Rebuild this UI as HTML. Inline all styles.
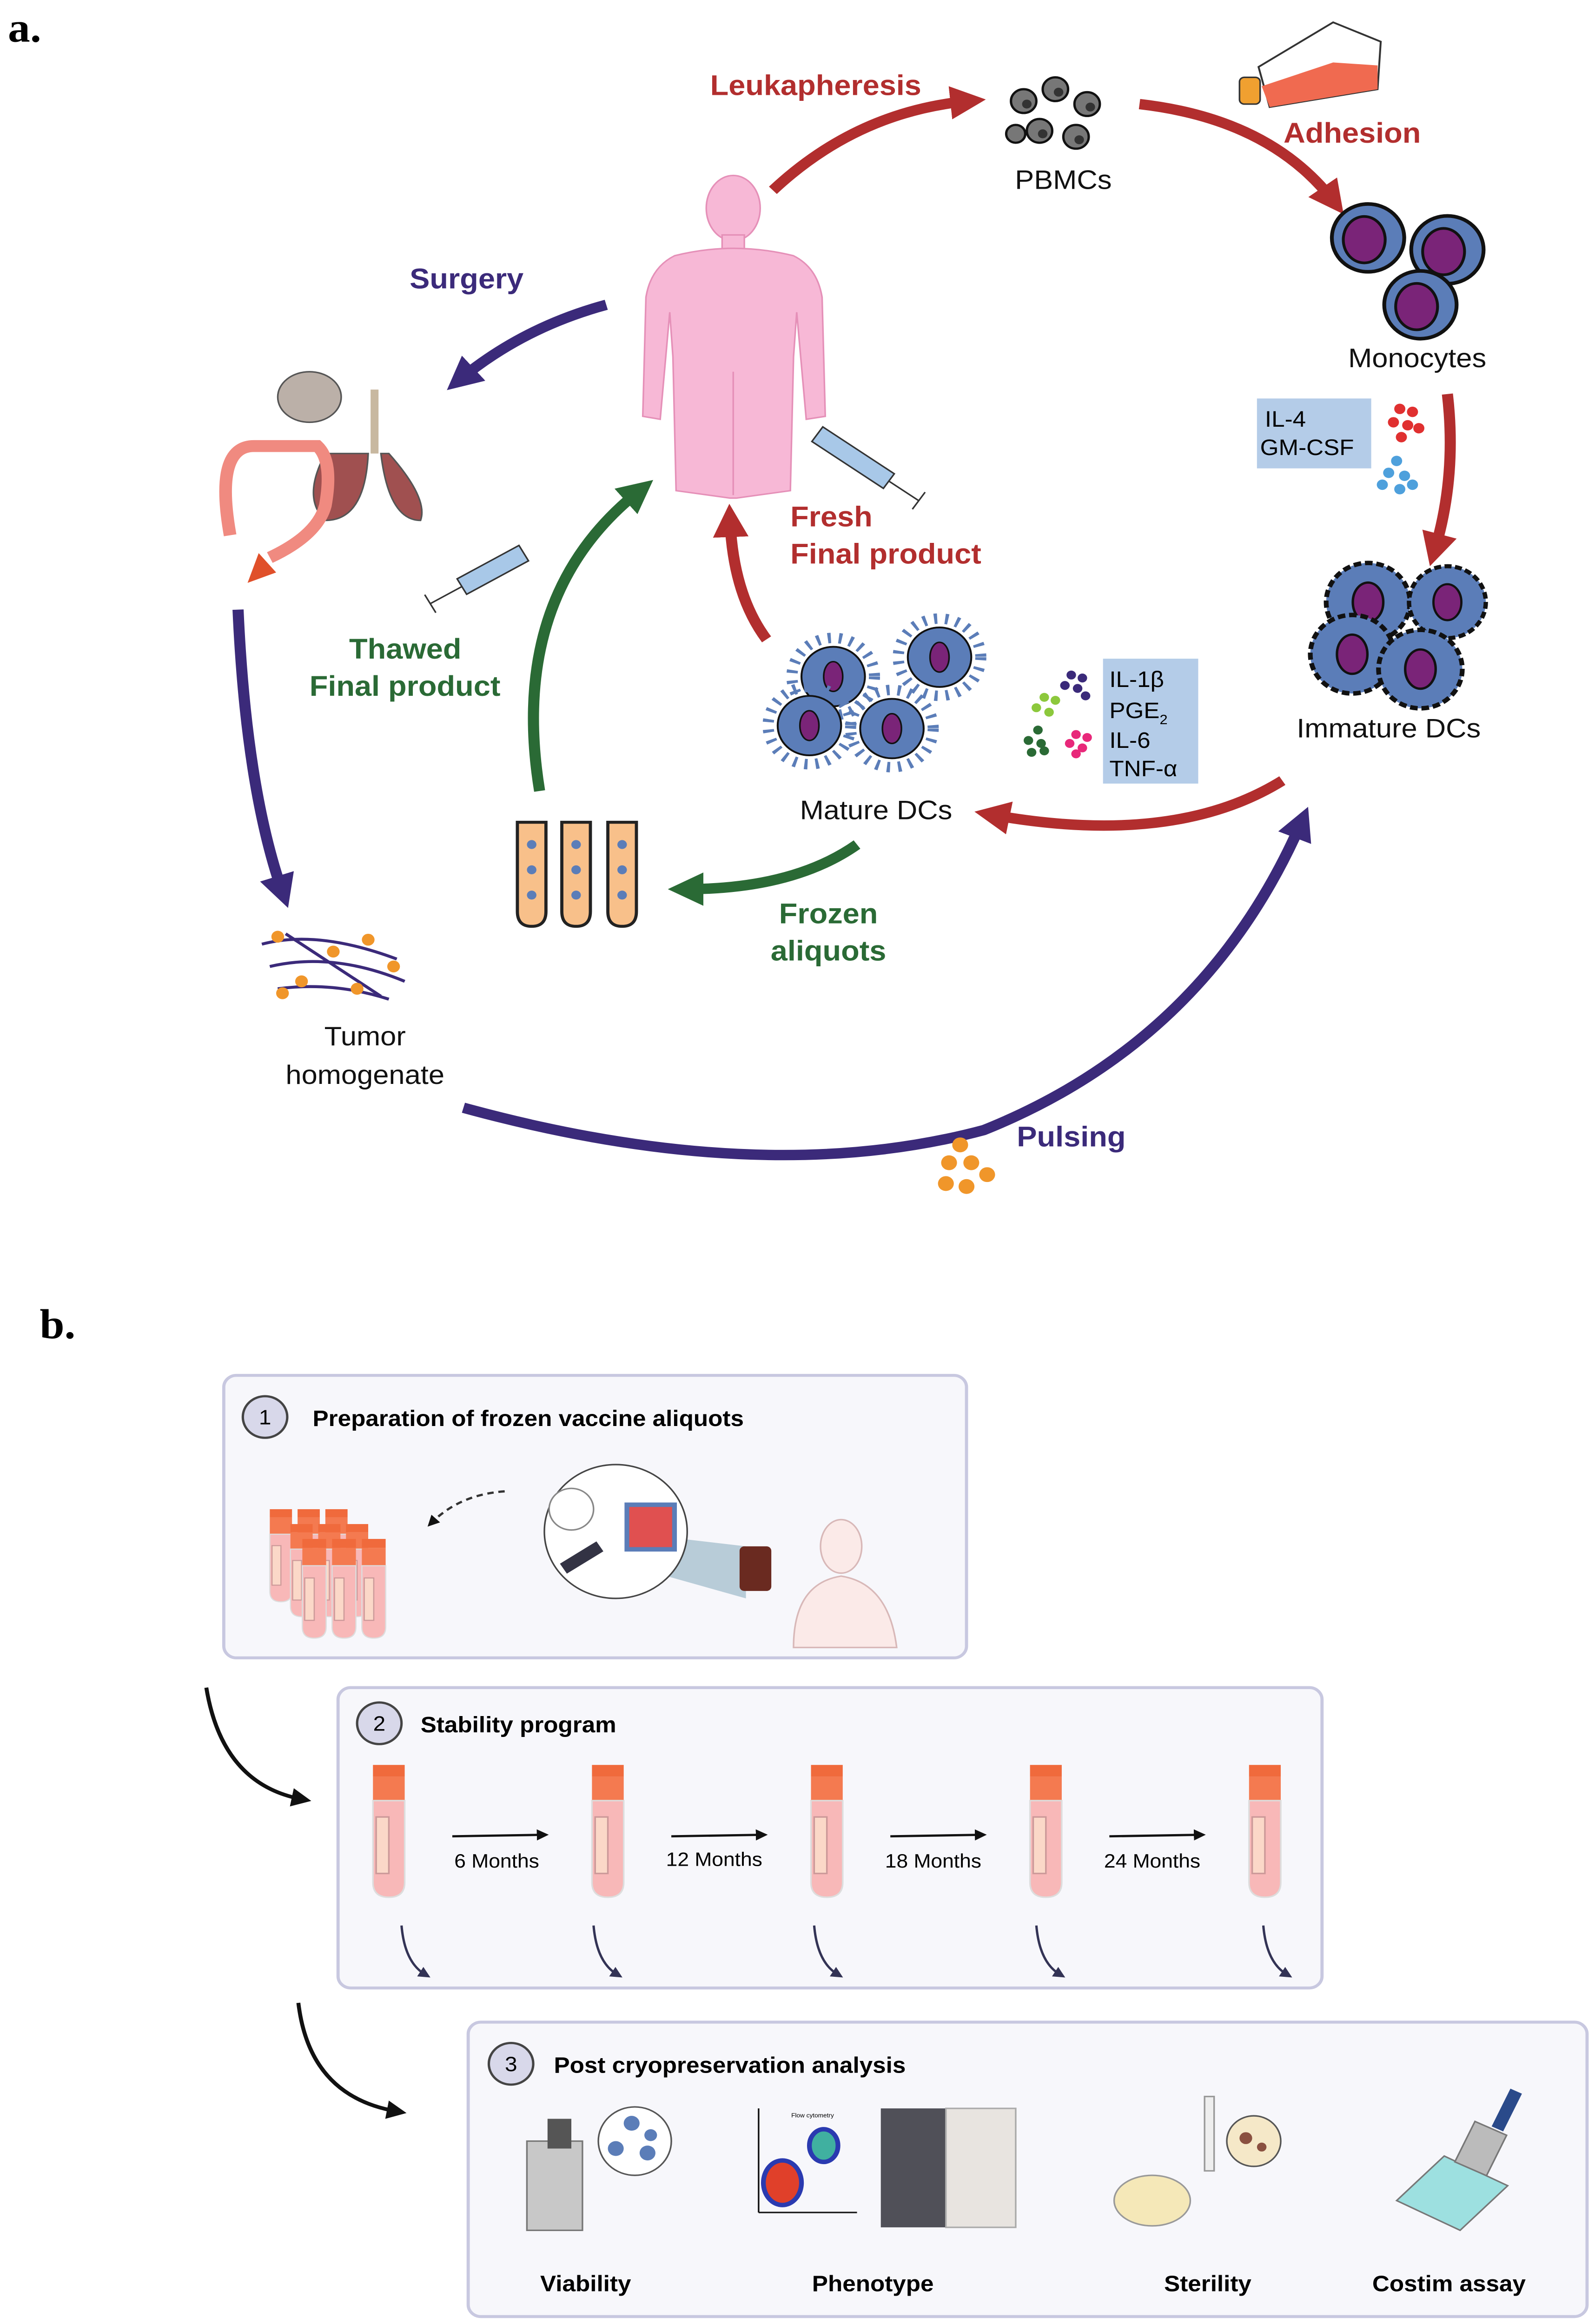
<!DOCTYPE html>
<html><head><meta charset="utf-8"><style>
html,body{margin:0;padding:0;background:#fff;width:100%;height:100%;overflow:hidden;}
svg{display:block;position:fixed;left:0;top:0;width:100vw;height:100vh;}
text{font-family:"Liberation Sans",sans-serif;}
</style></head><body>
<svg viewBox="0 0 1005 1563" preserveAspectRatio="none" xmlns="http://www.w3.org/2000/svg">
<defs>
<marker id="ar" viewBox="0 0 10 10" refX="5" refY="5" markerWidth="3.2" markerHeight="3.2" orient="auto"><path d="M0,0 L10,5 L0,10 z" fill="#b22e2e"/></marker>
<marker id="ap" viewBox="0 0 10 10" refX="5" refY="5" markerWidth="3.2" markerHeight="3.2" orient="auto"><path d="M0,0 L10,5 L0,10 z" fill="#3b2a7a"/></marker>
<marker id="ag" viewBox="0 0 10 10" refX="5" refY="5" markerWidth="3.2" markerHeight="3.2" orient="auto"><path d="M0,0 L10,5 L0,10 z" fill="#2a6a35"/></marker>
<marker id="ak" viewBox="0 0 10 10" refX="5" refY="5" markerWidth="5" markerHeight="5" orient="auto"><path d="M0,0 L10,5 L0,10 z" fill="#111"/></marker>
<marker id="ak2" viewBox="0 0 10 10" refX="5" refY="5" markerWidth="5" markerHeight="5" orient="auto"><path d="M0,0 L10,5 L0,10 z" fill="#333355"/></marker>
<g id="cell"><circle r="19" fill="#5b7db8" stroke="#111" stroke-width="2"/><ellipse cx="-2" cy="1" rx="11" ry="13" fill="#7a2478" stroke="#111" stroke-width="1.5"/></g>
<g id="dc"><circle r="22" fill="#5b7db8" stroke="#111" stroke-width="2.5" stroke-dasharray="4 2"/><ellipse cx="0" cy="0" rx="8" ry="11" fill="#7a2478" stroke="#111" stroke-width="1.3"/></g>
<g id="mdc"><circle r="20" fill="#5b7db8" stroke="#111" stroke-width="1.2"/><circle r="26" fill="none" stroke="#5b7db8" stroke-width="7" stroke-dasharray="2 5"/><ellipse cx="0" cy="0" rx="6" ry="10" fill="#7a2478" stroke="#111"/></g>
<g id="tube"><rect x="-10" y="0" width="20" height="8" fill="#f06a3c"/><rect x="-10" y="8" width="20" height="16" fill="#f47a50"/><path d="M-10,24 h20 v55 q0,10 -10,10 q-10,0 -10,-10 z" fill="#f8b8b8" stroke="#ddd"/><rect x="-8" y="35" width="8" height="38" fill="#fbd8c8" stroke="#c99"/></g>
</defs>

<text x="5" y="28" font-weight="bold" font-size="28" style="font-family:'Liberation Serif',serif">a.</text>

<path d="M487,128 Q540,75 610,68" fill="none" stroke="#b22e2e" stroke-width="7" marker-end="url(#ar)"/>
<path d="M718,70 Q800,80 840,135" fill="none" stroke="#b22e2e" stroke-width="7" marker-end="url(#ar)"/>
<path d="M912,265 Q918,320 904,370" fill="none" stroke="#b22e2e" stroke-width="7" marker-end="url(#ar)"/>
<path d="M808,525 Q740,570 625,548" fill="none" stroke="#b22e2e" stroke-width="7" marker-end="url(#ar)"/>
<path d="M483,430 Q462,400 460,350" fill="none" stroke="#b22e2e" stroke-width="7" marker-end="url(#ar)"/>
<path d="M382,205 Q330,220 290,255" fill="none" stroke="#3b2a7a" stroke-width="7" marker-end="url(#ap)"/>
<path d="M150,410 Q155,530 178,600" fill="none" stroke="#3b2a7a" stroke-width="7" marker-end="url(#ap)"/>
<path d="M292,745 Q480,800 620,760 Q760,700 820,553" fill="none" stroke="#3b2a7a" stroke-width="7" marker-end="url(#ap)"/>
<path d="M540,568 Q500,598 432,598" fill="none" stroke="#2a6a35" stroke-width="7" marker-end="url(#ag)"/>
<path d="M340,532 Q320,400 403,330" fill="none" stroke="#2a6a35" stroke-width="7" marker-end="url(#ag)"/>

<g font-weight="bold" font-size="19" text-anchor="middle">
<text x="514" y="64" fill="#b22e2e">Leukapheresis</text>
<text x="852" y="96" fill="#b22e2e">Adhesion</text>
<text x="294" y="194" fill="#3b2a7a">Surgery</text>
<text x="675" y="771" fill="#3b2a7a">Pulsing</text>
<text x="522" y="621" fill="#2a6a35">Frozen</text>
<text x="522" y="646" fill="#2a6a35">aliquots</text>
</g>
<g font-weight="bold" font-size="19">
<text x="498" y="354" fill="#b22e2e">Fresh</text>
<text x="498" y="379" fill="#b22e2e">Final product</text>
<text x="220" y="443" fill="#2a6a35">Thawed</text>
<text x="195" y="468" fill="#2a6a35">Final product</text>
</g>
<g font-size="18" text-anchor="middle" fill="#111">
<text x="670" y="127">PBMCs</text>
<text x="893" y="247">Monocytes</text>
<text x="875" y="496">Immature DCs</text>
<text x="552" y="551">Mature DCs</text>
<text x="230" y="703">Tumor</text>
<text x="230" y="729">homogenate</text>
</g>

<g fill="#777" stroke="#111" stroke-width="1.5">
<circle cx="645" cy="68" r="8"/><circle cx="665" cy="60" r="8"/><circle cx="685" cy="70" r="8"/><circle cx="655" cy="88" r="8"/><circle cx="678" cy="92" r="8"/><circle cx="640" cy="90" r="6"/>
</g>
<g fill="#333"><circle cx="647" cy="70" r="3"/><circle cx="667" cy="62" r="3"/><circle cx="687" cy="72" r="3"/><circle cx="657" cy="90" r="3"/><circle cx="680" cy="94" r="3"/></g>
<path d="M793,45 L840,15 L870,28 L868,60 L800,72 z" fill="#fff" stroke="#333" stroke-width="1.2"/>
<path d="M795,58 L840,42 L868,44 L868,60 L800,72 z" fill="#f06a50"/>
<rect x="781" y="52" width="13" height="18" rx="3" fill="#f0a030" stroke="#333"/>
<use href="#cell" transform="translate(862,160) scale(1.2)"/>
<use href="#cell" transform="translate(912,168) scale(1.2)"/>
<use href="#cell" transform="translate(895,205) scale(1.2)"/>
<rect x="792" y="268" width="72" height="47" fill="#b4cce8"/>
<text x="797" y="287" font-size="15">IL-4</text>
<text x="794" y="306" font-size="15">GM-CSF</text>
<g fill="#e03030"><circle cx="882" cy="275" r="3.5"/><circle cx="890" cy="277" r="3.5"/><circle cx="878" cy="284" r="3.5"/><circle cx="887" cy="286" r="3.5"/><circle cx="894" cy="288" r="3.5"/><circle cx="883" cy="294" r="3.5"/></g>
<g fill="#4ea0dc"><circle cx="880" cy="310" r="3.5"/><circle cx="875" cy="318" r="3.5"/><circle cx="885" cy="320" r="3.5"/><circle cx="871" cy="326" r="3.5"/><circle cx="882" cy="329" r="3.5"/><circle cx="890" cy="326" r="3.5"/></g>
<use href="#dc" transform="translate(862,405) scale(1.2)"/>
<use href="#dc" transform="translate(912,405) scale(1.1)"/>
<use href="#dc" transform="translate(852,440) scale(1.2)"/>
<use href="#dc" transform="translate(895,450) scale(1.2)"/>
<use href="#mdc" transform="translate(525,455)"/>
<use href="#mdc" transform="translate(592,442)"/>
<use href="#mdc" transform="translate(510,488)"/>
<use href="#mdc" transform="translate(562,490)"/>
<rect x="695" y="443" width="60" height="84" fill="#b4cce8"/>
<g font-size="15"><text x="699" y="462">IL-1β</text><text x="699" y="483">PGE<tspan font-size="9" dy="4">2</tspan></text><text x="699" y="503">IL-6</text><text x="699" y="522">TNF-α</text></g>
<g fill="#3b2a7a"><circle cx="675" cy="454" r="3"/><circle cx="682" cy="456" r="3"/><circle cx="671" cy="461" r="3"/><circle cx="679" cy="463" r="3"/><circle cx="684" cy="468" r="3"/></g>
<g fill="#8cc83c"><circle cx="658" cy="469" r="3"/><circle cx="665" cy="471" r="3"/><circle cx="653" cy="476" r="3"/><circle cx="661" cy="479" r="3"/></g>
<g fill="#2a6a35"><circle cx="654" cy="491" r="3"/><circle cx="648" cy="498" r="3"/><circle cx="656" cy="500" r="3"/><circle cx="650" cy="506" r="3"/><circle cx="658" cy="505" r="3"/></g>
<g fill="#e8287a"><circle cx="678" cy="494" r="3"/><circle cx="685" cy="496" r="3"/><circle cx="674" cy="500" r="3"/><circle cx="682" cy="503" r="3"/><circle cx="678" cy="507" r="3"/></g>
<g fill="#f7b8d6" stroke="#e590b8" stroke-width="1">
<ellipse cx="462" cy="140" rx="17" ry="22"/>
<rect x="455" y="158" width="14" height="12"/>
<path d="M425,172 Q462,162 500,172 Q515,180 518,200 L520,280 L508,282 L502,210 L500,240 L498,330 L464,335 L460,335 L426,330 L424,240 L422,210 L416,282 L405,280 L407,200 Q410,180 425,172 z"/>
</g>
<line x1="462" y1="250" x2="462" y2="333" stroke="#e590b8"/>
<g transform="translate(515,292) rotate(35)"><rect x="0" y="-6" width="55" height="12" fill="#a8c8e8" stroke="#333"/><line x1="55" y1="0" x2="78" y2="0" stroke="#333"/><line x1="78" y1="-7" x2="78" y2="7" stroke="#333"/></g>
<g transform="translate(330,372) rotate(150)"><rect x="0" y="-6" width="45" height="12" fill="#a8c8e8" stroke="#333"/><line x1="45" y1="0" x2="68" y2="0" stroke="#333"/><line x1="68" y1="-7" x2="68" y2="7" stroke="#333"/></g>
<ellipse cx="195" cy="267" rx="20" ry="17" fill="#bbb0a8" stroke="#555"/>
<path d="M205,305 Q190,335 205,350 Q230,350 232,305 z" fill="#a05050" stroke="#555"/>
<path d="M245,305 Q270,335 265,350 Q245,350 240,305 z" fill="#a05050" stroke="#555"/>
<line x1="236" y1="262" x2="236" y2="305" stroke="#c8b8a0" stroke-width="5"/>
<path d="M145,360 Q135,300 160,300 Q190,300 200,300 Q210,310 205,340 Q200,360 170,375" fill="none" stroke="#f08a80" stroke-width="8"/>
<path d="M163,372 L156,392 L174,385 z" fill="#e0502a"/>
<g stroke="#3b2a7a" stroke-width="2" fill="none">
<path d="M165,635 Q200,625 250,645"/><path d="M170,650 Q210,640 255,660"/><path d="M175,665 Q210,660 245,672"/><path d="M180,628 L240,670"/>
</g>
<g fill="#f0962a"><circle cx="175" cy="630" r="4"/><circle cx="210" cy="640" r="4"/><circle cx="232" cy="632" r="4"/><circle cx="190" cy="660" r="4"/><circle cx="225" cy="665" r="4"/><circle cx="248" cy="650" r="4"/><circle cx="178" cy="668" r="4"/></g>
<g fill="#f0962a"><circle cx="605" cy="770" r="5"/><circle cx="598" cy="782" r="5"/><circle cx="612" cy="782" r="5"/><circle cx="622" cy="790" r="5"/><circle cx="596" cy="796" r="5"/><circle cx="609" cy="798" r="5"/></g>
<g fill="#f8c08a" stroke="#222" stroke-width="2">
<path d="M326,553 h18 v60 q0,10 -9,10 q-9,0 -9,-10 z"/><path d="M354,553 h18 v60 q0,10 -9,10 q-9,0 -9,-10 z"/><path d="M383,553 h18 v60 q0,10 -9,10 q-9,0 -9,-10 z"/>
</g>
<g fill="#5b7db8"><circle cx="335" cy="568" r="3"/><circle cx="335" cy="585" r="3"/><circle cx="335" cy="602" r="3"/><circle cx="363" cy="568" r="3"/><circle cx="363" cy="585" r="3"/><circle cx="363" cy="602" r="3"/><circle cx="392" cy="568" r="3"/><circle cx="392" cy="585" r="3"/><circle cx="392" cy="602" r="3"/></g>

<text x="25" y="900" font-weight="bold" font-size="28" style="font-family:'Liberation Serif',serif">b.</text>
<rect x="141" y="925" width="468" height="190" rx="8" fill="#f7f7fb" stroke="#c8c8e0" stroke-width="2"/>
<rect x="213" y="1135" width="620" height="202" rx="8" fill="#f7f7fb" stroke="#c8c8e0" stroke-width="2"/>
<rect x="295" y="1360" width="705" height="198" rx="8" fill="#f7f7fb" stroke="#c8c8e0" stroke-width="2"/>
<g fill="#d8d8ea" stroke="#444" stroke-width="1.5"><circle cx="167" cy="953" r="14"/><circle cx="239" cy="1159" r="14"/><circle cx="322" cy="1388" r="14"/></g>
<g font-size="14" text-anchor="middle"><text x="167" y="958">1</text><text x="239" y="1164">2</text><text x="322" y="1393">3</text></g>
<g font-weight="bold" font-size="15"><text x="197" y="959">Preparation of frozen vaccine aliquots</text><text x="265" y="1165">Stability program</text><text x="349" y="1394">Post cryopreservation analysis</text></g>
<path d="M130,1135 Q140,1200 190,1210" fill="none" stroke="#111" stroke-width="2.5" marker-end="url(#ak)"/>
<path d="M188,1347 Q195,1410 250,1420" fill="none" stroke="#111" stroke-width="2.5" marker-end="url(#ak)"/>

<g transform="translate(177,1015) scale(0.7)"><use href="#tube" x="0"/><use href="#tube" x="25"/><use href="#tube" x="50"/></g>
<g transform="translate(190,1025) scale(0.7)"><use href="#tube" x="0"/><use href="#tube" x="25"/><use href="#tube" x="50"/></g>
<g transform="translate(198,1035) scale(0.75)"><use href="#tube" x="0"/><use href="#tube" x="25"/><use href="#tube" x="50"/></g>
<path d="M318,1003 Q290,1005 272,1024" fill="none" stroke="#333" stroke-dasharray="4 3" stroke-width="1.5" marker-end="url(#ak)"/>
<path d="M430,1035 L470,1040 L470,1075 L420,1060 z" fill="#b8ccd8"/>
<circle cx="388" cy="1030" r="45" fill="#fff" stroke="#444"/>
<circle cx="360" cy="1015" r="14" fill="#fff" stroke="#888"/>
<rect x="395" y="1012" width="30" height="30" fill="#e05050" stroke="#5b7db8" stroke-width="3"/>
<path d="M355,1055 L378,1040" stroke="#334" stroke-width="8"/>
<rect x="466" y="1040" width="20" height="30" rx="3" fill="#6a2a20"/>
<ellipse cx="530" cy="1040" rx="13" ry="18" fill="#fbeae8" stroke="#d8b8b8"/>
<path d="M500,1108 Q500,1065 530,1060 Q560,1065 565,1108 z" fill="#fbeae8" stroke="#d8b8b8"/>

<use href="#tube" transform="translate(245,1187)"/>
<use href="#tube" transform="translate(383,1187)"/>
<use href="#tube" transform="translate(521,1187)"/>
<use href="#tube" transform="translate(659,1187)"/>
<use href="#tube" transform="translate(797,1187)"/>
<g stroke="#111" stroke-width="1.5">
<line x1="285" y1="1235" x2="342" y2="1234" marker-end="url(#ak)"/>
<line x1="423" y1="1235" x2="480" y2="1234" marker-end="url(#ak)"/>
<line x1="561" y1="1235" x2="618" y2="1234" marker-end="url(#ak)"/>
<line x1="699" y1="1235" x2="756" y2="1234" marker-end="url(#ak)"/>
</g>
<g font-size="13" text-anchor="middle" style="font-family:'Liberation Serif',serif"><text x="313" y="1256">6 Months</text><text x="450" y="1255">12 Months</text><text x="588" y="1256">18 Months</text><text x="726" y="1256">24 Months</text></g>
<g fill="none" stroke="#333355" stroke-width="1.5">
<path d="M253,1295 Q255,1320 268,1328" marker-end="url(#ak2)"/>
<path d="M374,1295 Q376,1320 389,1328" marker-end="url(#ak2)"/>
<path d="M513,1295 Q515,1320 528,1328" marker-end="url(#ak2)"/>
<path d="M653,1295 Q655,1320 668,1328" marker-end="url(#ak2)"/>
<path d="M796,1295 Q798,1320 811,1328" marker-end="url(#ak2)"/>
</g>

<rect x="332" y="1440" width="35" height="60" fill="#c8c8c8" stroke="#777"/>
<rect x="345" y="1425" width="15" height="20" fill="#555"/>
<circle cx="400" cy="1440" r="23" fill="#fff" stroke="#555"/>
<g fill="#5b7db8"><circle cx="398" cy="1428" r="5"/><circle cx="388" cy="1445" r="5"/><circle cx="408" cy="1448" r="5"/><circle cx="410" cy="1436" r="4"/></g>
<line x1="478" y1="1418" x2="478" y2="1488" stroke="#111"/><line x1="478" y1="1488" x2="540" y2="1488" stroke="#111"/>
<ellipse cx="493" cy="1468" rx="12" ry="15" fill="#e0402a" stroke="#2a3ab0" stroke-width="3"/>
<ellipse cx="519" cy="1443" rx="9" ry="11" fill="#40b0a0" stroke="#2a3ab0" stroke-width="3"/>
<text x="512" y="1424" font-size="4" text-anchor="middle">Flow cytometry</text>
<rect x="555" y="1418" width="85" height="80" fill="#505058"/><rect x="596" y="1418" width="44" height="80" fill="#e8e4e0" stroke="#aaa"/>
<ellipse cx="726" cy="1480" rx="24" ry="17" fill="#f5e8b8" stroke="#999"/>
<rect x="759" y="1410" width="6" height="50" fill="#eee" stroke="#999"/>
<circle cx="790" cy="1440" r="17" fill="#f5e8c8" stroke="#555"/>
<circle cx="785" cy="1438" r="4" fill="#8a5040"/><circle cx="795" cy="1444" r="3" fill="#8a5040"/>
<path d="M880,1480 L910,1450 L950,1470 L920,1500 z" fill="#9de0e0" stroke="#777"/>
<rect x="922" y="1430" width="22" height="30" fill="#bbb" stroke="#777" transform="rotate(25 933 1445)"/>
<rect x="945" y="1405" width="8" height="28" fill="#2a4a8a" transform="rotate(25 949 1420)"/>
<g font-weight="bold" font-size="15" text-anchor="middle"><text x="369" y="1541">Viability</text><text x="550" y="1541">Phenotype</text><text x="761" y="1541">Sterility</text><text x="913" y="1541">Costim assay</text></g>
</svg>
</body></html>
